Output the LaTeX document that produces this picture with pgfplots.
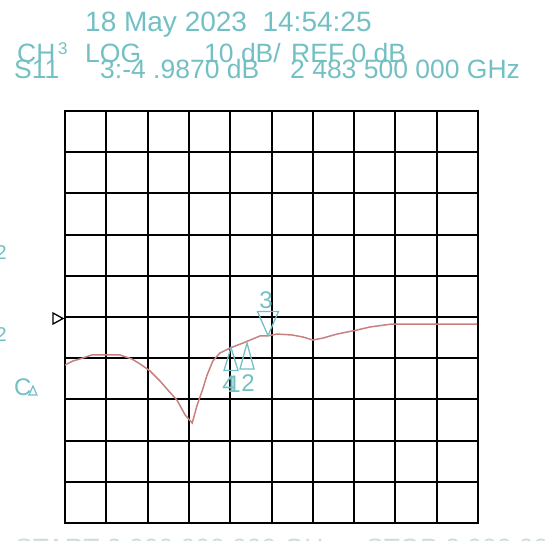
\documentclass[border=0pt]{standalone}
\usepackage{fontspec}
\setmainfont{Liberation Sans}
\usepackage{pgfplots}
\pgfplotsset{compat=1.18}
\definecolor{vnatext}{RGB}{115,192,196}
\definecolor{trace}{RGB}{200,128,128}
\definecolor{faint}{RGB}{205,220,220}
\begin{document}
\begin{tikzpicture}[x=1pt,y=1pt]
\clip (0,0) rectangle (545,-540);
\begin{axis}[
  at={(65pt,-523pt)}, anchor=south west,
  scale only axis, width=413pt, height=412pt,
  xmin=2, xmax=3, ymin=-50, ymax=50,
  xtick={2.0,2.1,2.2,2.3,2.4,2.5,2.6,2.7,2.8,2.9,3.0},
  ytick={-50,-40,-30,-20,-10,0,10,20,30,40,50},
  xticklabels={}, yticklabels={},
  major tick length=0pt,
  grid=major,
  grid style={black, line width=2pt},
  axis line style={black, line width=2pt},
  clip=true,
]
\addplot[trace, line width=1.5pt] coordinates {
(2.000,-11.65) (2.019,-10.68) (2.036,-10.19) (2.065,-9.22) (2.133,-9.22)
(2.162,-10.19) (2.182,-11.41) (2.206,-13.11) (2.230,-15.53) (2.249,-17.72)
(2.271,-20.15) (2.291,-23.79) (2.308,-25.73) (2.320,-21.36) (2.332,-17.96)
(2.344,-14.08) (2.358,-10.68) (2.375,-8.74) (2.400,-7.52) (2.431,-6.31)
(2.472,-4.61) (2.489,-4.61) (2.513,-4.13) (2.550,-4.37) (2.576,-4.85)
(2.600,-5.58) (2.625,-5.10) (2.659,-4.13) (2.707,-3.16) (2.738,-2.43)
(2.792,-1.70) (2.998,-1.70)
};
\coordinate (m1) at (axis cs:2.402,-7.4);
\coordinate (m2) at (axis cs:2.4407,-6.3);
\coordinate (m3) at (axis cs:2.4915,-4.5);
\end{axis}
% markers 1/4 and 2 (pointing up, apex on trace)
\draw[vnatext, line width=1.3pt] (m1) -- ++(-7,-23) -- ++(14,0) -- cycle;
\draw[vnatext, line width=1.3pt] (m2) -- ++(-7,-26) -- ++(14,0) -- cycle;
% marker 3 (pointing down, apex on trace)
\draw[vnatext, line width=1.3pt] (m3) -- ++(-10.5,24) -- ++(21,0) -- cycle;
% marker labels
\node[vnatext, anchor=base, inner sep=0pt, font=\fontsize{24}{24}\selectfont] at (229,-392) {4};
\node[vnatext, anchor=base, inner sep=0pt, font=\fontsize{24}{24}\selectfont] at (234,-392) {1};
\node[vnatext, anchor=base, inner sep=0pt, font=\fontsize{24}{24}\selectfont] at (248,-391) {2};
\node[vnatext, anchor=base, inner sep=0pt, font=\fontsize{24}{24}\selectfont] at (266,-308) {3};
% reference pointer
\draw[black, line width=1.3pt] (53,-313) -- (53,-324) -- (63,-318.5) -- cycle;
% left side cut characters
\node[vnatext, anchor=base east, inner sep=0pt, font=\fontsize{20}{20}\selectfont] at (7,-259) {2};
\node[vnatext, anchor=base east, inner sep=0pt, font=\fontsize{20}{20}\selectfont] at (7,-341) {2};
\node[vnatext, anchor=base west, inner sep=0pt, font=\fontsize{24}{24}\selectfont] at (14,-395) {C};
\draw[vnatext, line width=1.2pt] (29,-395) -- (37,-395) -- (33,-386) -- cycle;
% header
\node[vnatext, anchor=base west, inner sep=0pt, font=\fontsize{28}{28}\selectfont] at (85,-32) {18 May 2023\ \ 14:54:25};
\node[vnatext, anchor=base west, inner sep=0pt, font=\fontsize{26.5}{26.5}\selectfont] at (17,-63) {CH};
\node[vnatext, anchor=base west, inner sep=0pt, font=\fontsize{17}{17}\selectfont] at (58,-55) {3};
\node[vnatext, anchor=base west, inner sep=0pt, font=\fontsize{26.5}{26.5}\selectfont] at (85,-63) {LOG};
\node[vnatext, anchor=base west, inner sep=0pt, font=\fontsize{26.5}{26.5}\selectfont] at (204,-63) {10 dB/};
\node[vnatext, anchor=base west, inner sep=0pt, font=\fontsize{26.5}{26.5}\selectfont] at (291,-63) {REF 0 dB};
\node[vnatext, anchor=base west, inner sep=0pt, font=\fontsize{26.5}{26.5}\selectfont] at (14,-79) {S11};
\node[vnatext, anchor=base west, inner sep=0pt, font=\fontsize{26.5}{26.5}\selectfont] at (100,-79) {3:-4 .9870 dB};
\node[vnatext, anchor=base west, inner sep=0pt, font=\fontsize{26.5}{26.5}\selectfont] at (290,-79) {2 483 500 000 GHz};
% bottom cut-off line
\node[faint, anchor=north west, inner sep=0pt, font=\fontsize{26.5}{26.5}\selectfont] at (15,-538.5) {START 2.000 000 000 GHz\ \ \ \ STOP 3.000 000 000 GHz};
\end{tikzpicture}
\end{document}
